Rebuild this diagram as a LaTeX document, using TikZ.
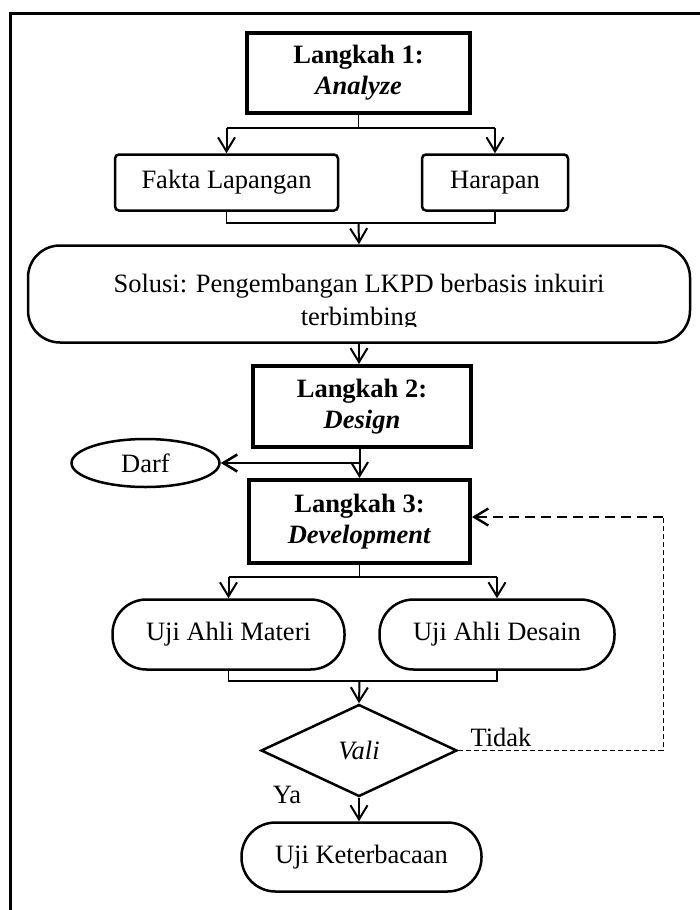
\documentclass[tikz,border=0pt]{standalone}
\usepackage{fontspec}
\setmainfont{Liberation Serif}
\usetikzlibrary{arrows.meta,shapes.geometric}
\begin{document}
\begin{tikzpicture}[x=1pt,y=-1pt,
  every node/.style={font=\fontsize{26.5}{31}\selectfont, inner sep=0pt, align=center},
  headbox/.style={draw, line width=4pt, font=\bfseries\fontsize{26.5}{31}\selectfont},
  softbox/.style={draw, line width=2.5pt, rounded corners=4pt},
  pill/.style={draw, line width=2.5pt, rounded corners=34pt},
  link/.style={line width=1.2pt},
  tip/.style={-{Straight Barb[length=14pt,width=17pt]}},
  arr/.style={line width=2pt, tip},
  thickarr/.style={line width=2.6pt, tip},
  loopdash/.style={line width=1pt, dash pattern=on 5pt off 3pt},
  loopdashhead/.style={line width=2.4pt, dash pattern=on 10pt off 6pt, tip}
]
\useasboundingbox (0,0) rectangle (700,910);

% outer frame
\draw[line width=3pt] (10,912) -- (10,13) -- (702,13);

% step 1 : analyze
\node[headbox, minimum width=223pt, minimum height=80pt] (L1) at (358.5,72.5) {Langkah 1:\\\textit{Analyze}};
\node[softbox, minimum width=223pt, minimum height=56pt] (fakta) at (226.5,182.5) {Fakta Lapangan};
\node[softbox, minimum width=146pt, minimum height=56pt] (harapan) at (495,182.5) {Harapan};

\coordinate (j1) at (358.5,128);
\draw[link] (L1.south) -- (j1);
\draw[link] (fakta.north |- j1) -- (harapan.north |- j1);
\draw[arr] (fakta.north |- j1) -- (fakta.north);
\draw[arr] (harapan.north |- j1) -- (harapan.north);

% solution (second line of text is cut off by its text frame)
\node[draw, line width=2.5pt, rounded corners=32pt, minimum width=662pt, minimum height=97pt] (solusi) at (359,294) {};
\begin{scope}
  \clip (28,245) rectangle (690,326);
  \node[font=\fontsize{26.5}{33}\selectfont] (solusitext) at (359,302.5) {Solusi: Pengembangan LKPD berbasis inkuiri\\terbimbing};
\end{scope}

\coordinate (j2) at (358.5,223);
\draw[link] (fakta.south) -- (fakta.south |- j2) -- (harapan.south |- j2) -- (harapan.south);
\draw[arr] (j2) -- (solusi.north);

% step 2 : design
\node[headbox, minimum width=218pt, minimum height=81pt] (L2) at (362,406.5) {Langkah 2:\\\textit{Design}};
\draw[arr] (solusi.south) -- (L2.north -| solusi.south);

\node[draw, ellipse, line width=2.5pt, minimum width=148pt, minimum height=48pt] (darf) at (145.5,463) {Darf};

% step 3 : development
\node[headbox, minimum width=221pt, minimum height=83pt] (L3) at (359.5,521.5) {Langkah 3:\\\textit{Development}};
\coordinate (dj) at (359,463);
\draw[arr] (L3.north |- L2.south) -- (L3.north);
\draw[thickarr] (dj) -- (darf.east);

\node[pill, minimum width=232pt, minimum height=70pt] (materi) at (228.5,634.5) {Uji Ahli Materi};
\node[pill, minimum width=235pt, minimum height=70pt] (desain) at (497,634.5) {Uji Ahli Desain};

\coordinate (j3) at (359.5,577);
\draw[link] (L3.south) -- (j3);
\draw[link] (materi.north |- j3) -- (desain.north |- j3);
\draw[arr] (materi.north |- j3) -- (materi.north);
\draw[arr] (desain.north |- j3) -- (desain.north);

% validation
\node[draw, diamond, line width=2.5pt, minimum width=196pt, minimum height=92pt, aspect=2.1, font=\itshape\fontsize{26.5}{31}\selectfont] (vali) at (359,750.5) {Vali};

\coordinate (j4) at (359.5,681);
\draw[link] (materi.south) -- (materi.south |- j4) -- (desain.south |- j4) -- (desain.south);
\draw[arr] (j4) -- (vali.north);

\node (tidak) at (501,737) {Tidak};
\node (ya) at (287,795) {Ya};

\coordinate (loopR) at (663,517);
\draw[loopdash] (vali.east) -- (vali.east -| loopR) -- (loopR);
\draw[loopdashhead] (loopR) -- (L3.east |- loopR);

\node[pill, minimum width=240pt, minimum height=69pt] (baca) at (361.5,857) {Uji Keterbacaan};
\draw[arr] (vali.south) -- (baca.north -| vali.south);

\end{tikzpicture}
\end{document}
